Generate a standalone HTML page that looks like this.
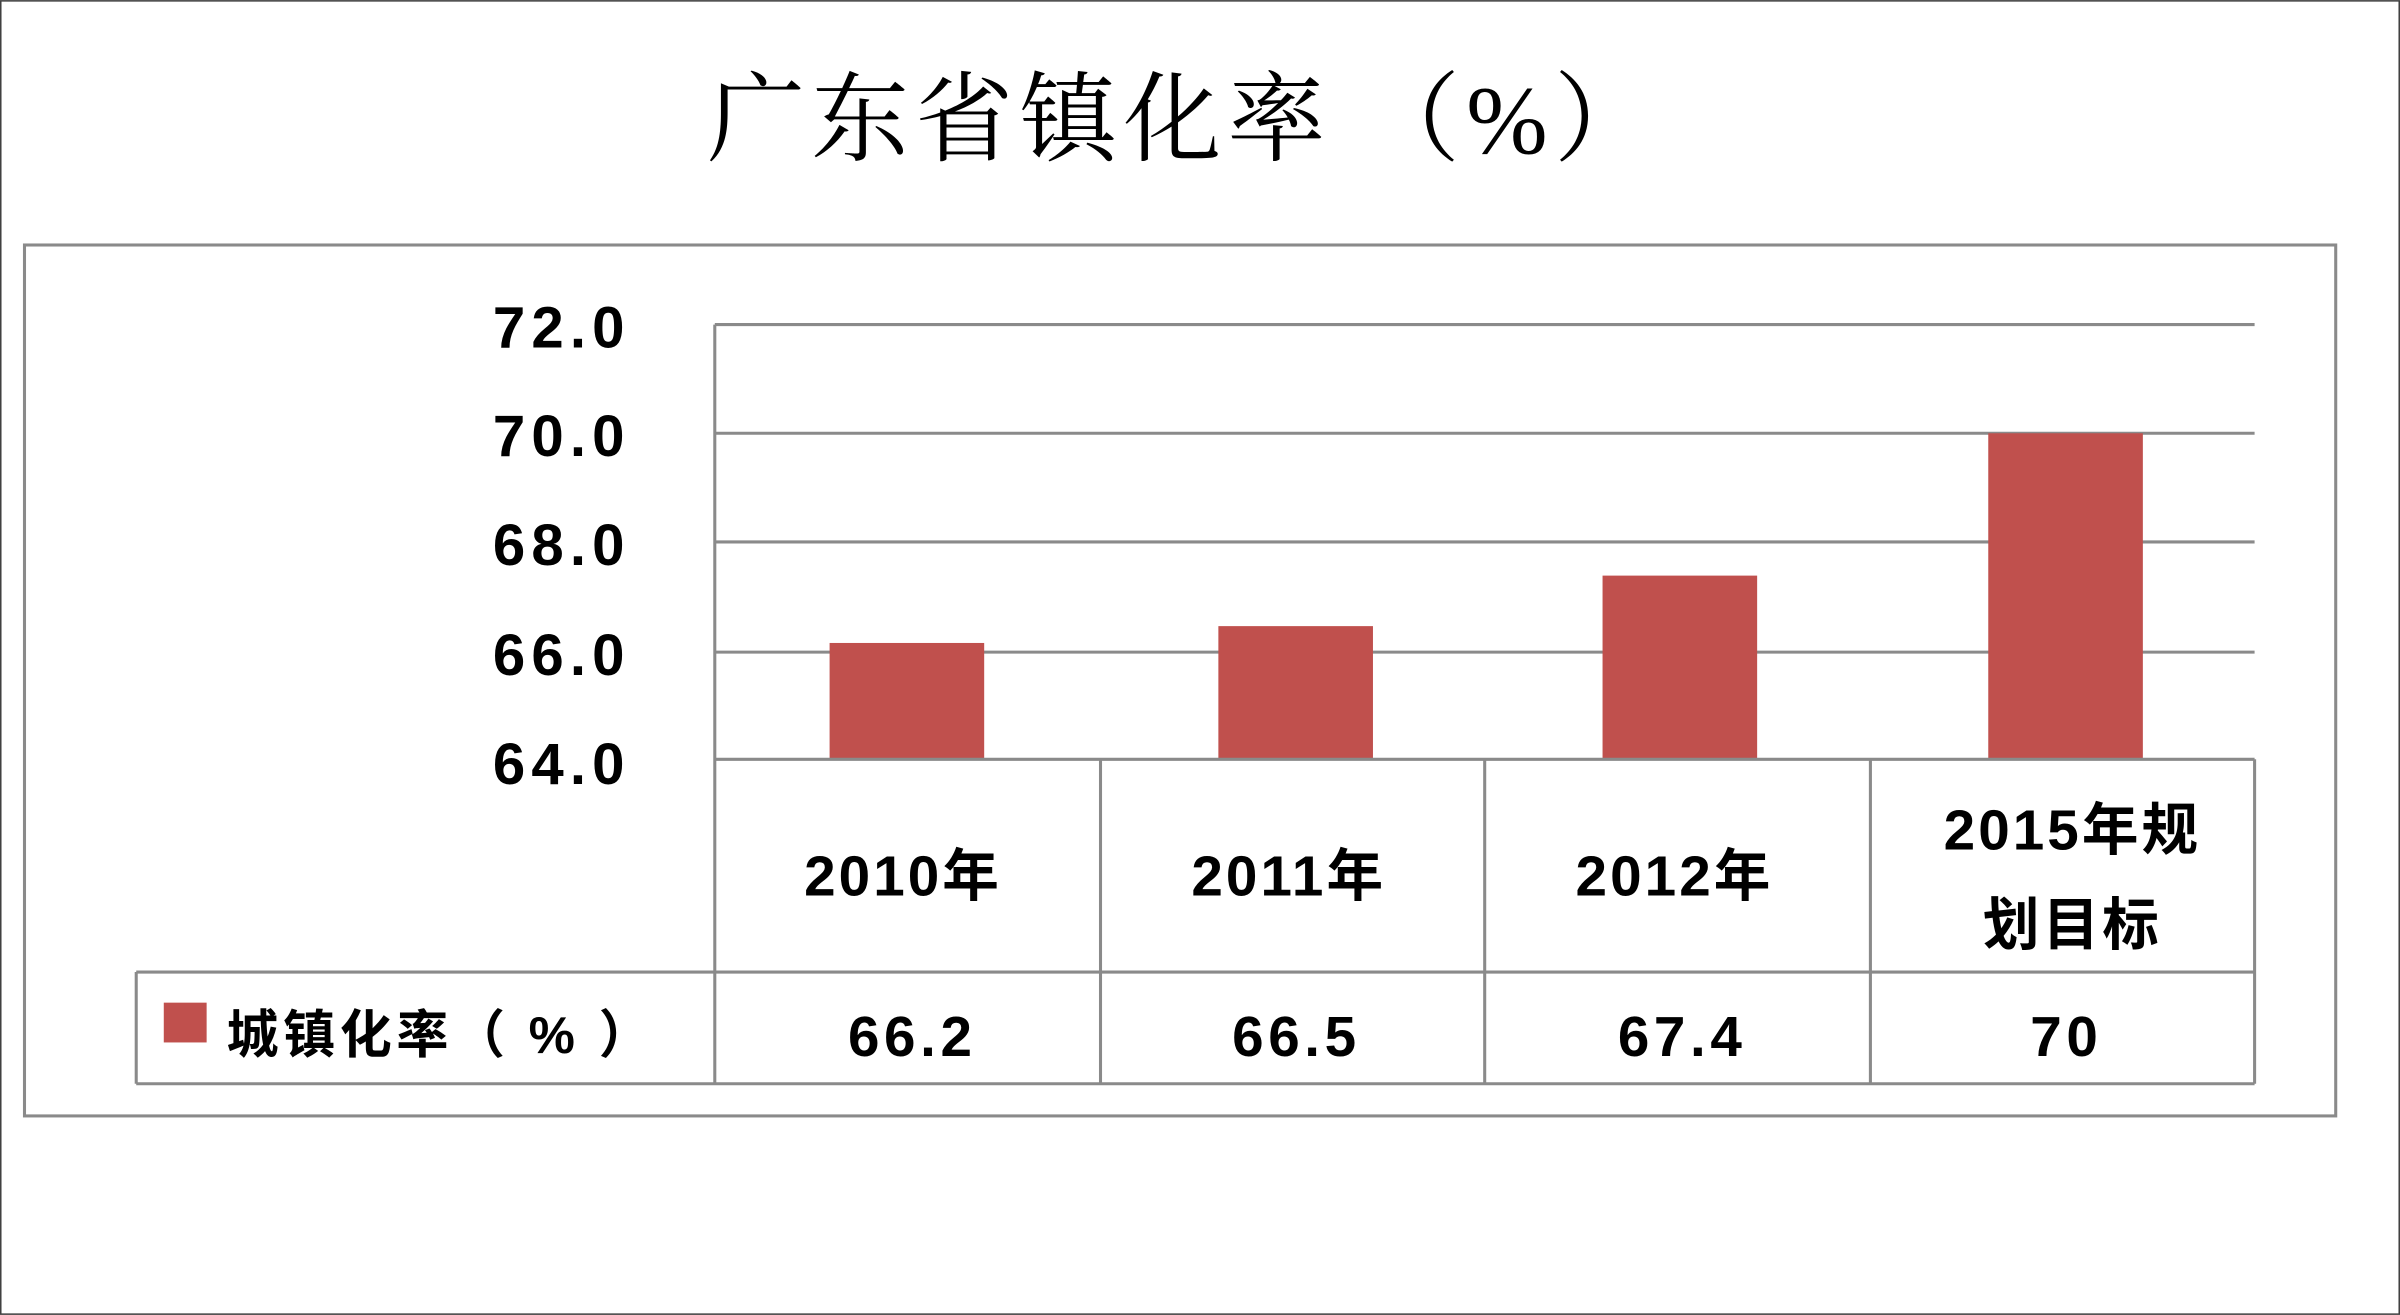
<!DOCTYPE html>
<html><head><meta charset="utf-8"><style>
html,body{margin:0;padding:0;background:#fff;}
svg{display:block;}
.t{font-family:"Liberation Sans","Noto Sans CJK SC",sans-serif;fill:#000;font-weight:bold;}
</style></head><body>
<svg width="2400" height="1315" viewBox="0 0 1568 859" xmlns="http://www.w3.org/2000/svg">
<rect x="0.5" y="0.5" width="1567" height="858" fill="#fff" stroke="#404040" stroke-width="1"/>
<text x="462" y="100" font-family="'Liberation Serif','Noto Serif CJK SC',serif" font-size="64" letter-spacing="4" fill="#000">广东省镇化率 （%）</text>
<rect x="16" y="160" width="1510" height="569" fill="#fff" stroke="#8a8a8a" stroke-width="2"/>
<g stroke="#8a8a8a" stroke-width="2">
<line x1="467" y1="212" x2="1473" y2="212"/>
<line x1="467" y1="283" x2="1473" y2="283"/>
<line x1="467" y1="354" x2="1473" y2="354"/>
<line x1="467" y1="426" x2="1473" y2="426"/>
</g>
<g fill="#C0504D">
<rect x="542" y="420" width="101" height="76"/>
<rect x="796" y="409" width="101" height="87"/>
<rect x="1047" y="376" width="101" height="120"/>
<rect x="1299" y="283" width="101" height="213"/>
</g>
<g stroke="#8a8a8a" stroke-width="2">
<line x1="467" y1="496" x2="1473" y2="496"/>
<line x1="467" y1="212" x2="467" y2="708"/>
<line x1="719" y1="496" x2="719" y2="708"/>
<line x1="970" y1="496" x2="970" y2="708"/>
<line x1="1222" y1="496" x2="1222" y2="708"/>
<line x1="1473" y1="496" x2="1473" y2="708"/>
<line x1="89" y1="635" x2="1473" y2="635"/>
<line x1="89" y1="708" x2="1473" y2="708"/>
<line x1="89" y1="635" x2="89" y2="708"/>
</g>
<g class="t" font-size="38" text-anchor="end" letter-spacing="4">
<text x="412" y="227">72.0</text>
<text x="412" y="298">70.0</text>
<text x="412" y="369">68.0</text>
<text x="412" y="441">66.0</text>
<text x="412" y="512">64.0</text>
</g>
<g class="t" font-size="37" text-anchor="middle" letter-spacing="2">
<text x="590" y="585">2010年</text>
<text x="842" y="585">2011年</text>
<text x="1094" y="585">2012年</text>
<text x="1354" y="555">2015年规</text>
<text x="1354" y="617">划目标</text>
<text x="596" y="690" letter-spacing="3">66.2</text>
<text x="847" y="690" letter-spacing="3">66.5</text>
<text x="1099" y="690" letter-spacing="3">67.4</text>
<text x="1350" y="690" letter-spacing="3">70</text>
</g>
<rect x="107" y="655" width="28" height="26" fill="#C0504D"/>
<text class="t" x="148" y="688" font-size="34" letter-spacing="3">城镇化率（ % ）</text>
</svg>
</body></html>
